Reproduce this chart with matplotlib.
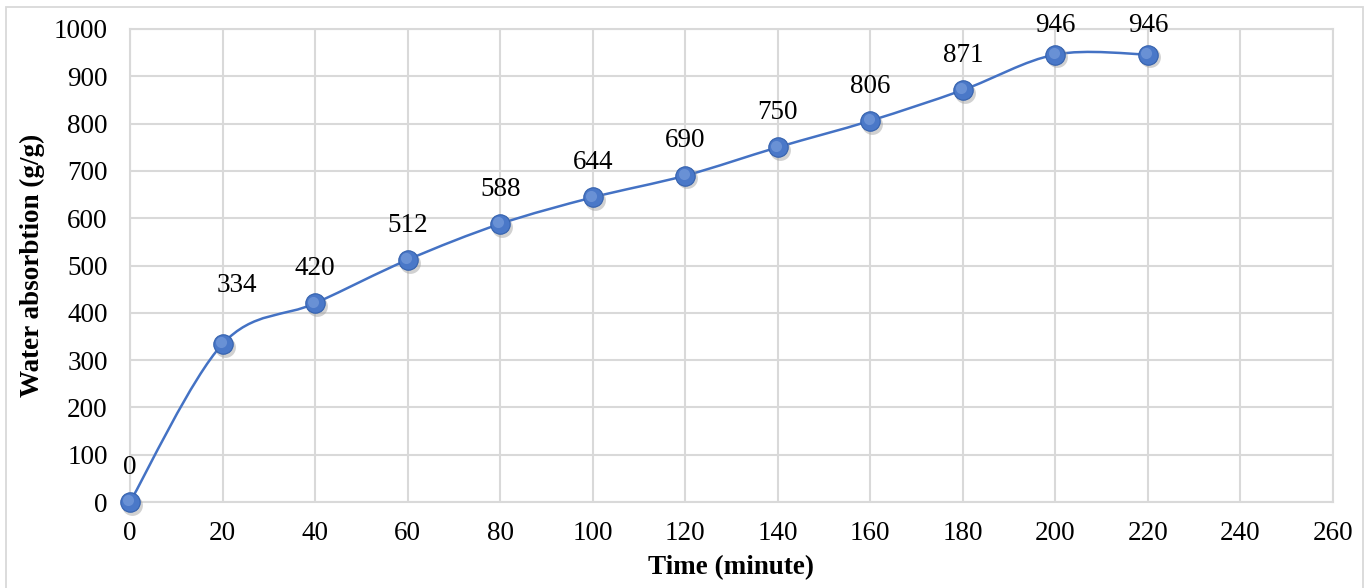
import matplotlib
matplotlib.use("Agg")
import matplotlib.pyplot as plt
from matplotlib.path import Path
from matplotlib.patches import PathPatch, Rectangle
from matplotlib.transforms import ScaledTranslation

plt.rcParams['font.family'] = ['Liberation Serif', 'DejaVu Serif']

time_min = [0, 20, 40, 60, 80, 100, 120, 140, 160, 180, 200, 220]
absorption = [0, 334, 420, 512, 588, 644, 690, 750, 806, 871, 946, 946]
x_ticks = list(range(0, 261, 20))
y_ticks = list(range(0, 1001, 100))

fig = plt.figure(figsize=(13.7, 5.88), dpi=100)
ax = fig.add_axes([130 / 1370, 1 - 502 / 588, (1333 - 130) / 1370, (502 - 29) / 588])

# outer chart border like the Excel chart area
fig.patches.append(Rectangle((6 / 1370, -0.01), 1357 / 1370, 1 - 7 / 588 + 0.01,
                             transform=fig.transFigure, fill=False,
                             edgecolor='#D9D9D9', linewidth=1.3))

# smoothed line: cubic Bezier segments through the data points (Excel style)
pts = list(zip(time_min, absorption))
n = len(pts)
verts = [pts[0]]
codes = [Path.MOVETO]
for i in range(n - 1):
    p0 = pts[max(i - 1, 0)]
    p1 = pts[i]
    p2 = pts[i + 1]
    p3 = pts[min(i + 2, n - 1)]
    c1 = (p1[0] + (p2[0] - p0[0]) / 6, p1[1] + (p2[1] - p0[1]) / 6)
    c2 = (p2[0] - (p3[0] - p1[0]) / 6, p2[1] - (p3[1] - p1[1]) / 6)
    verts += [c1, c2, p2]
    codes += [Path.CURVE4] * 3
ax.add_patch(PathPatch(Path(verts, codes), facecolor='none', edgecolor='#4472C4',
                       linewidth=1.8, zorder=3))

# spherical-looking markers: shadow, body, highlight
shadow = ax.transData + ScaledTranslation(1.5 / 72, -2 / 72, fig.dpi_scale_trans)
hilite = ax.transData + ScaledTranslation(-1.2 / 72, 1.2 / 72, fig.dpi_scale_trans)
ax.plot(time_min, absorption, 'o', ms=15, color='#9A9A9A', alpha=0.45, mec='none',
        zorder=4, transform=shadow, clip_on=False)
ax.plot(time_min, absorption, 'o', ms=14, color='#4A78C8', mec='#3461AD', mew=0.8,
        zorder=5, clip_on=False)
ax.plot(time_min, absorption, 'o', ms=8, color='#7FA2DE', mec='none', alpha=0.6,
        zorder=6, transform=hilite, clip_on=False)

# data labels
for x, y in zip(time_min, absorption):
    dy = 25
    dx = 0
    if y == 334:
        dy = 42
        dx = 10
    elif x == 200 or x == 220:
        dy = 21
    ax.annotate(str(y), (x, y), xytext=(dx, dy), textcoords='offset points',
                ha='center', va='center', fontsize=19.5, color='black', zorder=7)

ax.set_xlim(0, 260)
ax.set_ylim(0, 1000)
ax.set_xticks(x_ticks)
ax.set_yticks(y_ticks)
ax.tick_params(axis='both', length=0, labelsize=19.5)
ax.tick_params(axis='x', pad=14)
ax.tick_params(axis='y', pad=16)
ax.grid(True, color='#D9D9D9', linewidth=1.5)
ax.set_axisbelow(True)
for s in ax.spines.values():
    s.set_color('#D9D9D9')
    s.set_linewidth(1.5)

ax.set_xlabel('Time (minute)', fontsize=19.5, fontweight='bold', labelpad=6)
ax.set_ylabel('Water absorbtion (g/g)', fontsize=19.5, fontweight='bold', labelpad=6)

fig.savefig('out.png', dpi=100)
